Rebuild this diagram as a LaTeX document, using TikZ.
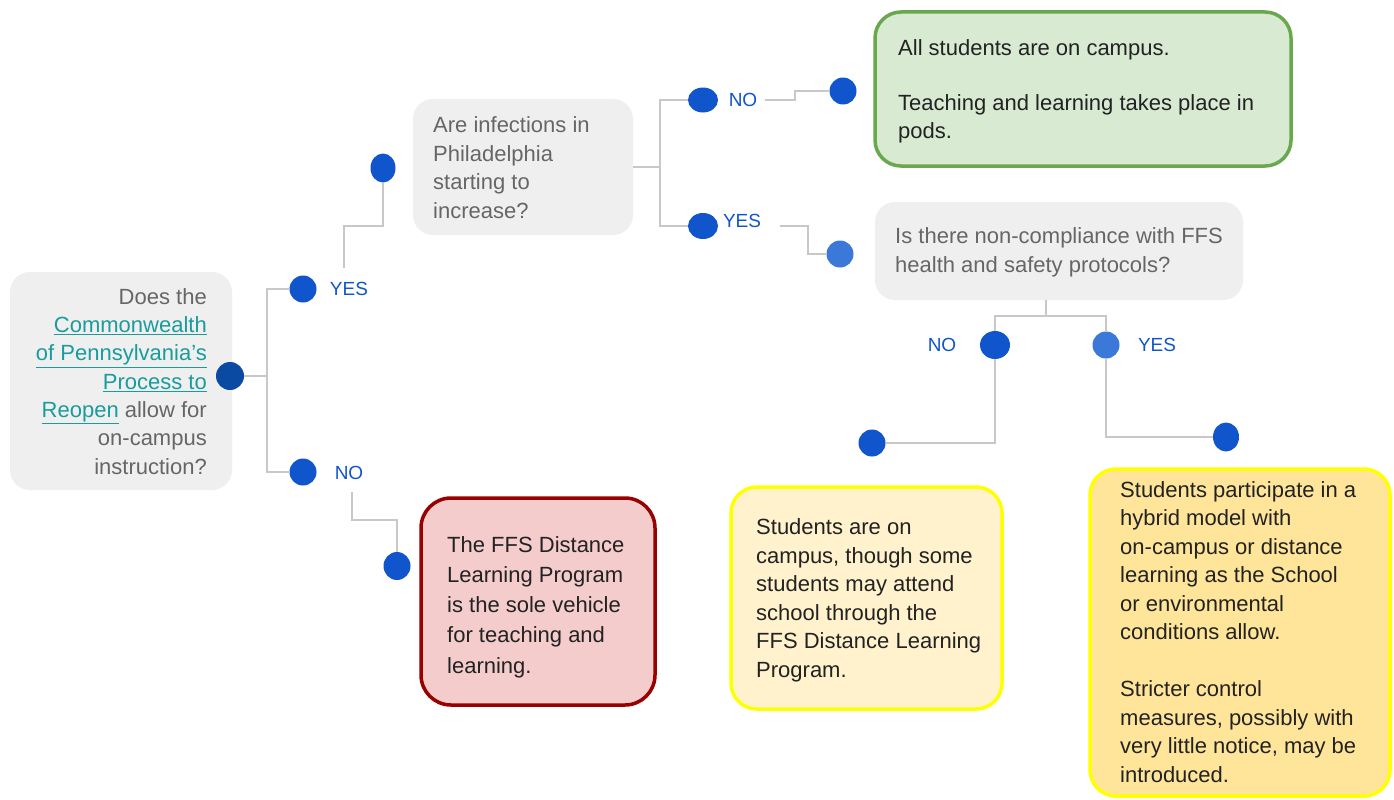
\documentclass[tikz,border=0pt]{standalone}
\usepackage{fontspec}
\setmainfont{Liberation Sans}
\usetikzlibrary{shapes.geometric,calc}
\definecolor{dotblue}{HTML}{1155CC}
\definecolor{dotdark}{HTML}{0B4AA2}
\definecolor{dotlight}{HTML}{3C78D8}
\definecolor{lblblue}{HTML}{1155CC}
\definecolor{boxgray}{HTML}{EFEFEF}
\definecolor{qgray}{HTML}{666666}
\definecolor{linkteal}{HTML}{1A9C9C}
\definecolor{connc}{HTML}{C8C8C8}
\definecolor{greenfill}{HTML}{D9EAD3}
\definecolor{greenline}{HTML}{6AA84F}
\definecolor{redfill}{HTML}{F4CCCC}
\definecolor{redline}{HTML}{990000}
\definecolor{ylwfill}{HTML}{FFF2CC}
\definecolor{orgfill}{HTML}{FFE599}
\definecolor{ylwline}{HTML}{FFFF00}
\definecolor{txtdark}{HTML}{222222}
\newcommand{\lnk}[1]{\textcolor{linkteal}{\underline{#1}}}
\begin{document}
\begin{tikzpicture}[x=1pt,y=-1pt,
  gbox/.style={rectangle, fill=boxgray, draw=none, rounded corners=20pt, inner sep=0pt},
  obox/.style={rectangle, rounded corners=26pt, inner sep=0pt, line width=3.5pt},
  qtext/.style={anchor=base west, align=left, inner sep=0pt, text=qgray, font=\fontsize{22}{28.5}\selectfont},
  otext/.style={anchor=base west, align=left, inner sep=0pt, text=txtdark, font=\fontsize{22}{28.5}\selectfont},
  dot/.style={ellipse, fill=dotblue, draw=none, inner sep=0pt},
  lbl/.style={inner sep=0pt, text=lblblue, font=\fontsize{19}{22}\selectfont},
  conn/.style={draw=connc, line width=1.6pt}]
\useasboundingbox (0,0) rectangle (1394,800);
\fill[white] (0,0) rectangle (1394,800);

% boxes
\node[gbox, minimum width=222pt, minimum height=218pt] (q1) at (121,381) {};
\node[gbox, minimum width=220pt, minimum height=136pt] (q2) at (523,167) {};
\node[gbox, minimum width=368pt, minimum height=98pt] (q3) at (1059,251) {};
\node[obox, fill=greenfill, draw=greenline, minimum width=416pt, minimum height=154pt] (g1) at (1083,89) {};
\node[obox, fill=redfill, draw=redline, minimum width=234pt, minimum height=207pt, rounded corners=30pt] (r1) at (538,601.5) {};
\node[obox, fill=ylwfill, draw=ylwline, minimum width=271pt, minimum height=222pt] (y1) at (866.5,598) {};
\node[obox, fill=orgfill, draw=ylwline, minimum width=300pt, minimum height=327pt] (y2) at (1240,632.5) {};

% texts (anchored at the baseline of the last line)
\node[anchor=base east, align=right, inner sep=0pt, text=qgray, font=\fontsize{22}{28.3}\selectfont] (t1) at (207,474)
  {Does the\\ \lnk{Commonwealth}\\ \lnk{of Pennsylvania's}\\ \lnk{Process to}\\ \lnk{Reopen} allow for\\ on-campus\\ instruction?};
\node[qtext] (t2) at (433,218) {Are infections in\\ Philadelphia\\ starting to\\ increase?};
\node[qtext] (t3) at (895,272) {Is there non-compliance with FFS\\ health and safety protocols?};
\node[otext, font=\fontsize{22}{27.5}\selectfont] (t4) at (898,138) {All students are on campus.\\[27.5pt] Teaching and learning takes place in\\ pods.};
\node[otext, font=\fontsize{22}{30.2}\selectfont] (t5) at (447,673) {The FFS Distance\\ Learning Program\\ is the sole vehicle\\ for teaching and\\ learning.};
\node[otext] (t6) at (756,677) {Students are on\\ campus, though some\\ students may attend\\ school through the\\ FFS Distance Learning\\ Program.};
\node[otext] (t7) at (1120,782) {Students participate in a\\ hybrid model with\\ on-campus or distance\\ learning as the School\\ or environmental\\ conditions allow.\\[28.5pt] Stricter control\\ measures, possibly with\\ very little notice, may be\\ introduced.};

% dots
\node[dot, fill=dotdark, minimum width=28pt, minimum height=28pt] (d0) at (230,376) {};
\node[dot, minimum width=27pt, minimum height=27pt] (dy1) at (303,289) {};
\node[dot, minimum width=27pt, minimum height=27pt] (dn1) at (303,472) {};
\node[dot, minimum width=25pt, minimum height=29pt] (d3) at (383,168) {};
\node[dot, minimum width=27pt, minimum height=28pt] (d10) at (397,566) {};
\node[dot, minimum width=30pt, minimum height=25pt] (dn2) at (703,100) {};
\node[dot, minimum width=30pt, minimum height=26pt] (dy2) at (703,226) {};
\node[dot, minimum width=27pt, minimum height=27pt] (d4) at (843,91) {};
\node[dot, fill=dotlight, minimum width=27pt, minimum height=27pt] (d5) at (840,254) {};
\node[dot, minimum width=30pt, minimum height=28pt] (d6) at (995,345) {};
\node[dot, fill=dotlight, minimum width=27pt, minimum height=27pt] (d7) at (1106,345) {};
\node[dot, minimum width=27pt, minimum height=27pt] (d8) at (872,443) {};
\node[dot, minimum width=26pt, minimum height=29pt] (d9) at (1226,437) {};

% labels
\node[lbl] (ly1) at (349,289) {YES};
\node[lbl] (ln1) at (349,473) {NO};
\node[lbl] (ln2) at (743,100) {NO};
\node[lbl] (ly2) at (742,221) {YES};
\node[lbl] (ln3) at (942,345) {NO};
\node[lbl] (ly3) at (1157,345) {YES};

% label-side connector starts
\coordinate (c1) at (344,268);
\coordinate (c2) at (765,100);
\coordinate (c3) at (780,226);
\coordinate (c4) at (352,492);

% connectors
\draw[conn] (d0.east) -- ++(23,0) |- (dy1.west);
\draw[conn] (d0.east) -- ++(23,0) |- (dn1.west);
\draw[conn] (c1) -- ++(0,-42) -| (d3.south);
\draw[conn] (c4) -- ++(0,28) -| (d10.north);
\draw[conn] (q2.east) -- ++(27,0) |- (dn2.west);
\draw[conn] (q2.east) -- ++(27,0) |- (dy2.west);
\draw[conn] (c2) -- ++(30,0) |- (d4.west);
\draw[conn] (c3) -- ++(28,0) |- (d5.west);
\draw[conn] ($(q3.south)+(-13,0)$) -- ++(0,16) -| (d6.north);
\draw[conn] ($(q3.south)+(-13,0)$) -- ++(0,16) -| (d7.north);
\draw[conn] (d6.south) |- (d8.east);
\draw[conn] (d7.south) |- (d9.west);
\end{tikzpicture}
\end{document}
